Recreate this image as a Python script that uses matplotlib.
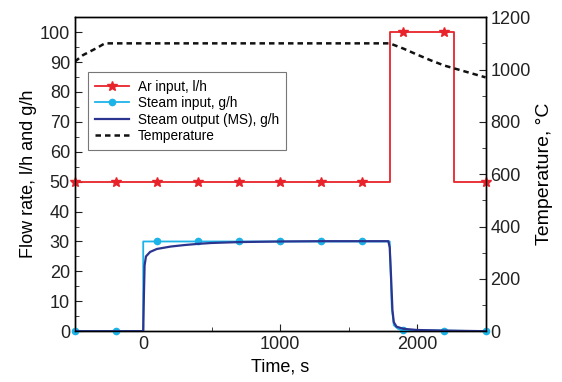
import numpy as np
import matplotlib.pyplot as plt
from matplotlib.lines import Line2D

plt.rcParams['font.family'] = ['Liberation Sans', 'DejaVu Sans']

# Ar input, l/h
ar_t = [-500, 1800, 1800, 2270, 2270, 2500]
ar_v = [50, 50, 100, 100, 50, 50]
ar_mk_t = [-500, -200, 100, 400, 700, 1000, 1300, 1600, 1900, 2200, 2500]
ar_mk_v = [50, 50, 50, 50, 50, 50, 50, 50, 100, 100, 50]

# Steam input, g/h
si_t = [-500, 0, 0, 1800, 1815, 1830, 1860, 1900, 2500]
si_v = [0, 0, 30, 30, 8, 2, 0.8, 0.4, 0]
si_mk_t = [-500, -200, 100, 400, 700, 1000, 1300, 1600, 1900, 2200, 2500]
si_mk_v = [0, 0, 30, 30, 30, 30, 30, 30, 0.4, 0.2, 0]

# Steam output (MS), g/h
so_t = [-500, 0, 5, 10, 20, 50, 100, 200, 300, 400, 500, 700, 1000, 1300, 1790,
        1800, 1810, 1820, 1830, 1850, 1900, 2000, 2200, 2500]
so_v = [0, 0, 12, 22, 25, 26.5, 27.5, 28.3, 28.8, 29.2, 29.5, 29.8, 30, 30.1, 30.1,
        28, 18, 7, 3, 1.5, 0.8, 0.4, 0.2, 0]

# Temperature, C
temp_t = [-500, -440, -340, -280, 1800, 1900, 2000, 2100, 2200, 2300, 2400, 2500]
temp_v = [1030, 1055, 1082, 1100, 1100, 1080, 1057, 1035, 1015, 1000, 985, 970]

red = '#e8232b'
cyan = '#1cb3e8'
navy = '#2b3590'

fig = plt.figure(figsize=(5.62, 3.82), dpi=100)
ax = fig.add_axes([0.133, 0.133, 0.731, 0.822])
ax2 = ax.twinx()

ax.plot(si_t, si_v, color=cyan, lw=1.3, zorder=3)
ax.plot(si_mk_t, si_mk_v, 'o', color=cyan, ms=4.5, zorder=3, clip_on=False)
ax.plot(so_t, so_v, color=navy, lw=1.6, zorder=4)
ax.plot(ar_t, ar_v, color=red, lw=1.3, zorder=3)
ax.plot(ar_mk_t, ar_mk_v, '*', color=red, ms=7, zorder=3, clip_on=False)
ax2.plot(temp_t, temp_v, color='#111111', lw=1.8, ls=(0, (2.2, 1.6)))

ax.set_xlim(-500, 2500)
ax.set_ylim(0, 105)
ax2.set_ylim(0, 1200)
ax.set_xticks([0, 1000, 2000])
ax.set_xticks([-500, 500, 1500, 2500], minor=True)
ax.set_yticks(np.arange(0, 101, 10))
ax.set_yticks(np.arange(5, 105, 10), minor=True)
ax2.set_yticks(np.arange(0, 1201, 200))
ax2.set_yticks(np.arange(100, 1200, 200), minor=True)

for a in (ax, ax2):
    a.tick_params(which='both', direction='in', labelsize=13, colors='#222222')
    a.tick_params(which='major', length=5)
    a.tick_params(which='minor', length=3)
    for s in a.spines.values():
        s.set_linewidth(1.0)

ax.set_xlabel('Time, s', fontsize=13, labelpad=4)
ax.set_ylabel('Flow rate, l/h and g/h', fontsize=13, labelpad=2)
ax2.set_ylabel('Temperature, \u00b0C', fontsize=14, labelpad=4)

# leyenda con las cuatro series (ambos ejes)
handles = [
    Line2D([], [], color=red, lw=1.3, marker='*', ms=7),
    Line2D([], [], color=cyan, lw=1.3, marker='o', ms=4.5),
    Line2D([], [], color=navy, lw=1.6),
    Line2D([], [], color='#111111', lw=1.8, ls=(0, (2.2, 1.6))),
]
labels = ['Ar input, l/h', 'Steam input, g/h', 'Steam output (MS), g/h', 'Temperature']
leg = ax2.legend(handles, labels, loc='upper left', bbox_to_anchor=(0.032, 0.825),
                 borderaxespad=0, fontsize=9.8, frameon=True, fancybox=False,
                 edgecolor='#555555', handlelength=2.5, handletextpad=0.6,
                 labelspacing=0.18, borderpad=0.55)
leg.get_frame().set_linewidth(0.8)

fig.savefig('out.png', dpi=100)
